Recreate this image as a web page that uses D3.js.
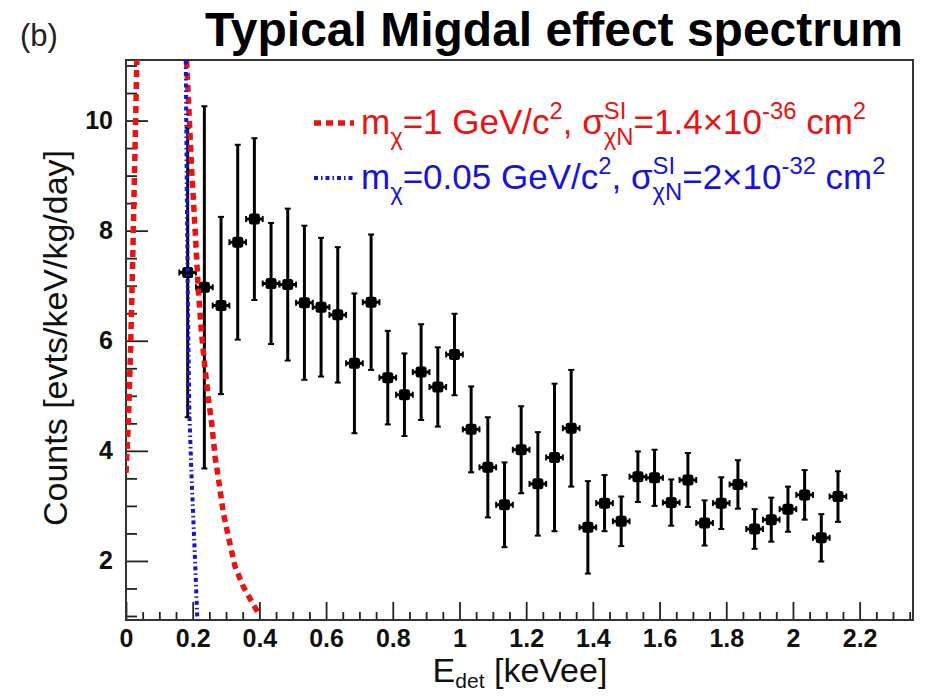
<!DOCTYPE html>
<html>
<head>
<meta charset="utf-8">
<script src="https://cdn.jsdelivr.net/npm/d3@7"></script>
<style>
  html, body { margin: 0; padding: 0; background: #fff; }
  svg { display: block; font-family: "Liberation Sans", Arial, Helvetica, sans-serif; }
</style>
</head>
<body>
<svg id="chart" width="926" height="696"></svg>
<script>
// Measured spectrum: bin centres (keVee), counts and symmetric errors
const energy = [0.185, 0.235, 0.285, 0.335, 0.385, 0.435, 0.485, 0.535, 0.585, 0.635,
                0.685, 0.735, 0.785, 0.835, 0.885, 0.935, 0.985, 1.035, 1.085, 1.135,
                1.185, 1.235, 1.285, 1.335, 1.385, 1.435, 1.485, 1.535, 1.585, 1.635,
                1.685, 1.735, 1.785, 1.835, 1.885, 1.935, 1.985, 2.035, 2.085, 2.135];
const counts = [7.24, 6.97, 6.64, 7.79, 8.21, 7.04, 7.02, 6.69, 6.61, 6.47,
                5.59, 6.70, 5.33, 5.02, 5.43, 5.16, 5.75, 4.39, 3.70, 3.02,
                4.02, 3.40, 3.88, 4.41, 2.61, 3.05, 2.72, 3.53, 3.51, 3.06,
                3.47, 2.69, 3.05, 3.39, 2.58, 2.75, 2.94, 3.20, 2.42, 3.17];
const countErr = [2.63, 3.29, 1.61, 1.77, 1.47, 1.10, 1.38, 1.40, 1.26, 1.23,
                  1.27, 1.23, 0.85, 0.75, 0.87, 0.72, 0.74, 0.78, 0.91, 0.77,
                  0.79, 0.94, 1.34, 1.06, 0.84, 0.51, 0.45, 0.46, 0.51, 0.42,
                  0.49, 0.41, 0.47, 0.44, 0.36, 0.40, 0.41, 0.45, 0.43, 0.46];
const binHalfWidth = 0.025;

// Expected Migdal spectrum, m = 1 GeV/c^2 (rising edge and falling tail)
const redRiseE = [0.000, 0.007, 0.014, 0.018, 0.022, 0.027, 0.032, 0.034];
const redRiseY = [3.60, 4.50, 5.90, 6.93, 8.02, 9.47, 10.93, 11.40];
const redFallE = [0.180, 0.187, 0.197, 0.207, 0.217, 0.227, 0.237, 0.247, 0.257,
                  0.267, 0.277, 0.292, 0.307, 0.327, 0.352, 0.377, 0.400];
const redFallY = [11.30, 10.40, 9.10, 8.05, 6.90, 6.10, 5.50, 4.95, 4.50,
                  3.90, 3.50, 2.87, 2.44, 1.90, 1.53, 1.26, 1.02];
// Expected Migdal spectrum, m = 0.05 GeV/c^2
const blueE = [0.179, 0.182, 0.185, 0.190, 0.197, 0.207, 0.214];
const blueY = [11.30, 9.00, 6.93, 4.69, 3.47, 2.02, 0.93];

// Axis ticks
const xMajorTicks = [0, 0.2, 0.4, 0.6, 0.8, 1, 1.2, 1.4, 1.6, 1.8, 2, 2.2];
const xMinorStep = 0.05;
const yMajorTicks = [2, 4, 6, 8, 10];
const yMinorStep = 0.5;

const svg = d3.select("#chart");
const plot = { left: 126, right: 913, top: 60, bottom: 620 };

const x = d3.scaleLinear().domain([0, 2.36]).range([plot.left, plot.right]);
const y = d3.scaleLinear().domain([0.927, 11.1]).range([plot.bottom, plot.top]);

svg.append("rect").attr("width", 926).attr("height", 696).attr("fill", "#fff");

svg.append("defs").append("clipPath").attr("id", "plotClip")
  .append("rect")
  .attr("x", plot.left).attr("y", plot.top)
  .attr("width", plot.right - plot.left).attr("height", plot.bottom - plot.top);

// ---- axes ----
const xMinor = d3.range(0, 2.36, xMinorStep).filter(v => xMajorTicks.every(t => Math.abs(t - v) > 1e-6));
const yMinor = d3.range(1, 11.01, yMinorStep).filter(v => yMajorTicks.every(t => Math.abs(t - v) > 1e-6));

const gx = svg.append("g").attr("transform", `translate(0,${plot.bottom})`);
gx.call(d3.axisBottom(x).tickValues(xMinor).tickSize(-8).tickFormat(""));
const gxMaj = svg.append("g").attr("transform", `translate(0,${plot.bottom})`);
gxMaj.call(d3.axisBottom(x).tickValues(xMajorTicks).tickSize(-18).tickPadding(9)
  .tickFormat(d => d3.format("~g")(d)));

const gy = svg.append("g").attr("transform", `translate(${plot.left},0)`);
gy.call(d3.axisLeft(y).tickValues(yMinor).tickSize(-11).tickFormat(""));
const gyMaj = svg.append("g").attr("transform", `translate(${plot.left},0)`);
gyMaj.call(d3.axisLeft(y).tickValues(yMajorTicks).tickSize(-22).tickPadding(13)
  .tickFormat(d3.format("d")));

svg.selectAll(".domain").remove();
svg.selectAll(".tick line").attr("stroke", "#222").attr("stroke-width", 1.8);
[gxMaj, gyMaj].forEach(g => g.selectAll(".tick text")
  .attr("font-size", 25).attr("font-weight", "bold").attr("fill", "#111")
  .attr("font-family", "Liberation Sans, Arial, sans-serif"));

// frame
svg.append("rect")
  .attr("x", plot.left).attr("y", plot.top)
  .attr("width", plot.right - plot.left).attr("height", plot.bottom - plot.top)
  .attr("fill", "none").attr("stroke", "#333").attr("stroke-width", 2);

// ---- data ----
const data = energy.map((e, i) => ({ e, c: counts[i], err: countErr[i] }));
const pts = svg.append("g").attr("clip-path", "url(#plotClip)");

pts.selectAll("line.ey").data(data).join("line").attr("class", "ey")
  .attr("x1", d => x(d.e)).attr("x2", d => x(d.e))
  .attr("y1", d => y(d.c - d.err)).attr("y2", d => y(d.c + d.err))
  .attr("stroke", "#000").attr("stroke-width", 3);
pts.selectAll("line.cap").data(data.flatMap(d => [d.c - d.err, d.c + d.err].map(v => ({ e: d.e, v }))))
  .join("line").attr("class", "cap")
  .attr("x1", d => x(d.e) - 3).attr("x2", d => x(d.e) + 3)
  .attr("y1", d => y(d.v)).attr("y2", d => y(d.v))
  .attr("stroke", "#000").attr("stroke-width", 2);
pts.selectAll("line.ex").data(data).join("line").attr("class", "ex")
  .attr("x1", d => x(d.e - binHalfWidth)).attr("x2", d => x(d.e + binHalfWidth))
  .attr("y1", d => y(d.c)).attr("y2", d => y(d.c))
  .attr("stroke", "#000").attr("stroke-width", 3);
pts.selectAll("line.excap").data(data.flatMap(d => [d.e - binHalfWidth, d.e + binHalfWidth].map(e => ({ e, c: d.c }))))
  .join("line").attr("class", "excap")
  .attr("x1", d => x(d.e)).attr("x2", d => x(d.e))
  .attr("y1", d => y(d.c) - 3).attr("y2", d => y(d.c) + 3)
  .attr("stroke", "#000").attr("stroke-width", 2);
pts.selectAll("rect.mk").data(data).join("rect").attr("class", "mk")
  .attr("x", d => x(d.e) - 5.5).attr("y", d => y(d.c) - 5.5)
  .attr("width", 11).attr("height", 11).attr("rx", 2.5)
  .attr("fill", "#000");

// ---- model curves ----
const curves = svg.append("g").attr("clip-path", "url(#plotClip)");
const line = d3.line().x(d => x(d[0])).y(d => y(d[1]));
const RED = "#ee1111", BLUE = "#1414dd";
const redStyle = s => s.attr("fill", "none").attr("stroke", RED).attr("stroke-width", 5.5).attr("stroke-dasharray", "7,5");
const blueStyle = s => s.attr("fill", "none").attr("stroke", BLUE).attr("stroke-width", 4).attr("stroke-dasharray", "4,3,1.5,3");

curves.append("path").attr("d", line(redRiseE.map((e, i) => [e, redRiseY[i]]))).call(redStyle);
curves.append("path").attr("d", line(redFallE.map((e, i) => [e, redFallY[i]]))).call(redStyle);
curves.append("path").attr("d", line(blueE.map((e, i) => [e, blueY[i]]))).call(blueStyle);

// ---- rich text helper (sub/superscripts) ----
function rich(g, x0, yb, parts, fs, fill) {
  let cx = x0;
  const small = 0.68;
  const put = (t, xx, yy, size) => g.append("text").attr("x", xx).attr("y", yy)
    .attr("font-size", size).attr("fill", fill).attr("xml:space", "preserve").text(t);
  parts.forEach(p => {
    if (p.stack) {
      const a = put(p.stack[0], cx, yb - fs * 0.42, fs * small);
      const b = put(p.stack[1], cx, yb + fs * 0.3, fs * small);
      cx += Math.max(a.node().getComputedTextLength(), b.node().getComputedTextLength());
    } else {
      const off = p.sup ? -fs * 0.42 : p.sub ? fs * 0.3 : 0;
      const size = (p.sup || p.sub) ? fs * small : fs;
      const t = put(p.t, cx, yb + off, size);
      cx += t.node().getComputedTextLength();
    }
  });
  return cx;
}

// ---- legend ----
const leg = svg.append("g");
leg.append("line").attr("x1", 314).attr("x2", 354).attr("y1", 123).attr("y2", 123).call(redStyle);
leg.append("line").attr("x1", 314).attr("x2", 354).attr("y1", 178).attr("y2", 178).call(blueStyle);
rich(leg, 361, 134, [
  { t: "m" }, { t: "χ", sub: true }, { t: "=1 GeV/c" }, { t: "2", sup: true },
  { t: ", σ" }, { stack: ["SI", "χN"] }, { t: "=1.4×10" }, { t: "-36", sup: true },
  { t: "\u00a0cm" }, { t: "2", sup: true }
], 35, RED);
rich(leg, 361, 189, [
  { t: "m" }, { t: "χ", sub: true }, { t: "=0.05 GeV/c" }, { t: "2", sup: true },
  { t: ", σ" }, { stack: ["SI", "χN"] }, { t: "=2×10" }, { t: "-32", sup: true },
  { t: "\u00a0cm" }, { t: "2", sup: true }
], 35, BLUE);

// ---- titles ----
svg.append("text").attr("x", 554).attr("y", 46).attr("text-anchor", "middle")
  .attr("font-size", 48).attr("font-weight", "bold").attr("fill", "#000")
  .text("Typical Migdal effect spectrum");
svg.append("text").attr("x", 20).attr("y", 46)
  .attr("font-size", 31).attr("fill", "#222").text("(b)");

const xt = svg.append("text").attr("x", 520).attr("y", 682).attr("text-anchor", "middle")
  .attr("font-size", 34).attr("fill", "#111");
xt.append("tspan").text("E");
xt.append("tspan").attr("font-size", 21).attr("dy", 6).text("det");
xt.append("tspan").attr("dy", -6).text("\u00a0[keVee]");

svg.append("text").attr("transform", "translate(67,338) rotate(-90)")
  .attr("text-anchor", "middle").attr("font-size", 34).attr("fill", "#111")
  .text("Counts [evts/keV/kg/day]");
</script>
</body>
</html>
